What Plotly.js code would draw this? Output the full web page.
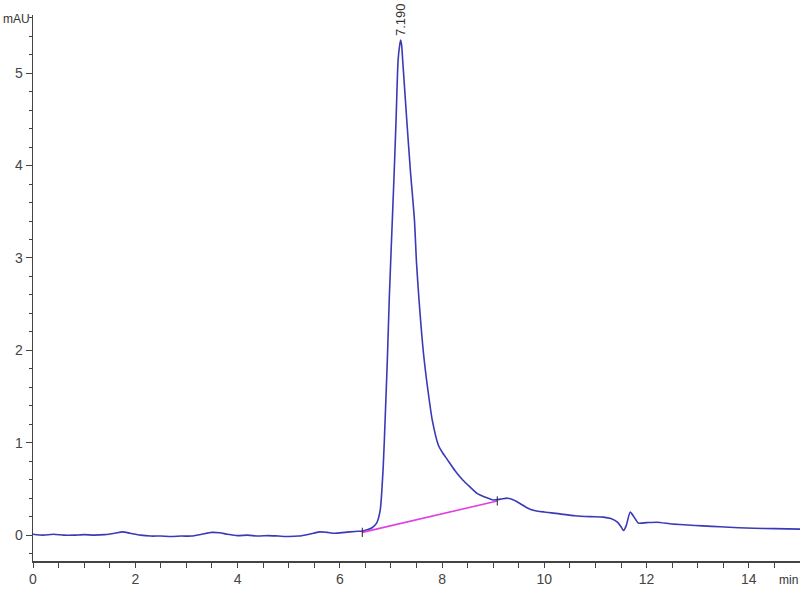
<!DOCTYPE html>
<html>
<head>
<meta charset="utf-8">
<script src="https://cdn.plot.ly/plotly-3.0.1.min.js"></script>
<style>html,body{margin:0;padding:0;background:#fff;}#chart{width:800px;height:600px;}</style>
</head>
<body>
<div id="chart"></div>
<script>
// Chromatogram signal (time in min, absorbance in mAU)
const time = [0.0,0.2,0.4,0.6,0.8,1.0,1.2,1.4,1.6,1.75,1.9,2.1,2.3,2.5,2.7,2.9,3.1,3.3,3.5,3.65,3.8,4.0,4.2,4.4,4.6,4.8,5.0,5.2,5.4,5.6,5.75,5.9,6.1,6.3,6.45,6.55,6.63,6.72,6.79,6.85,6.89,6.93,6.97,7.03,7.065,7.10,7.14,7.17,7.19,7.21,7.23,7.31,7.38,7.46,7.5,7.55,7.64,7.75,7.81,7.93,8.0,8.1,8.25,8.4,8.55,8.69,8.85,9.0,9.15,9.28,9.4,9.53,9.65,9.78,10.0,10.3,10.6,10.9,11.15,11.3,11.43,11.5,11.55,11.6,11.68,11.75,11.84,12.0,12.2,12.5,12.8,13.1,13.44,13.8,14.1,14.5,15.0];
const signal = [0.01,0.0,0.01,0.0,0.0,0.005,0.0,0.005,0.02,0.035,0.02,0.0,-0.01,-0.01,-0.015,-0.01,-0.01,0.01,0.03,0.025,0.01,-0.005,0.0,-0.01,-0.005,-0.01,-0.015,-0.01,0.01,0.035,0.03,0.02,0.03,0.04,0.045,0.06,0.08,0.13,0.27,0.75,1.3,1.9,2.6,3.45,3.95,4.49,5.14,5.3,5.36,5.3,5.14,4.49,3.95,3.41,2.95,2.54,1.95,1.46,1.24,0.97,0.9,0.82,0.7,0.6,0.52,0.45,0.41,0.38,0.39,0.40,0.38,0.34,0.30,0.27,0.25,0.23,0.21,0.20,0.195,0.18,0.14,0.09,0.05,0.10,0.25,0.20,0.13,0.135,0.14,0.12,0.11,0.10,0.09,0.08,0.075,0.07,0.065];
// Integration baseline
const baseX = [6.44, 9.08];
const baseY = [0.03, 0.37];
// Peak label
const peakTime = 7.19;
const peakHeight = 5.36;
const peakLabel = "7.190";

const fam = "Liberation Sans Narrow, Liberation Sans, Arial, sans-serif";
const axisFont = {family: fam, size: 14, color: "#444"};

const shapes = baseX.map((x, i) => ({
  type: "line", xref: "x", yref: "y",
  x0: x, x1: x, y0: baseY[i] - 0.05, y1: baseY[i] + 0.05,
  line: {color: "#222", width: 1}
}));

const data = [
  {x: time, y: signal, type: "scatter", mode: "lines", line: {color: "#3a3ab8", width: 1.6, shape: "spline", smoothing: 0.6}, hoverinfo: "none"},
  {x: baseX, y: baseY, type: "scatter", mode: "lines", line: {color: "#e040e0", width: 1.6}, hoverinfo: "none"}
];

const layout = {
  width: 800, height: 600,
  margin: {l: 33, r: 0, t: 15, b: 39},
  paper_bgcolor: "#fff", plot_bgcolor: "#fff",
  showlegend: false,
  xaxis: {
    range: [0, 15], showgrid: false, zeroline: false,
    showline: true, linecolor: "#444", linewidth: 1.5,
    ticks: "outside", ticklen: 5, tickcolor: "#444", tickwidth: 1,
    tick0: 0, dtick: 2, tickfont: axisFont,
    minor: {dtick: 0.5, ticks: "outside", ticklen: 5, tickcolor: "#444", showgrid: false}
  },
  yaxis: {
    range: [-0.28, 5.63], showgrid: false, zeroline: false,
    showline: true, linecolor: "#444", linewidth: 1.5,
    ticks: "outside", ticklen: 6, tickcolor: "#444", tickwidth: 1,
    tick0: 0, dtick: 1, tickfont: axisFont,
    minor: {dtick: 0.2, ticks: "outside", ticklen: 3, tickcolor: "#444", showgrid: false}
  },
  shapes: shapes,
  annotations: [
    {x: peakTime, y: peakHeight, xref: "x", yref: "y", text: peakLabel, showarrow: false,
     textangle: -90, yanchor: "bottom", yshift: 2, font: {family: fam, size: 13, color: "#333"}},
    {x: 0, y: 1, xref: "paper", yref: "paper", xanchor: "left", yanchor: "middle", xshift: -32, yshift: -4,
     text: "mAU", showarrow: false, font: {family: fam, size: 12, color: "#333"}},
    {x: 1, y: 0, xref: "paper", yref: "paper", xanchor: "right", yanchor: "top",
     xshift: 0, yshift: -10, text: "min", showarrow: false, font: {family: fam, size: 12, color: "#333"}}
  ]
};

Plotly.newPlot("chart", data, layout, {staticPlot: true});
</script>
</body>
</html>
